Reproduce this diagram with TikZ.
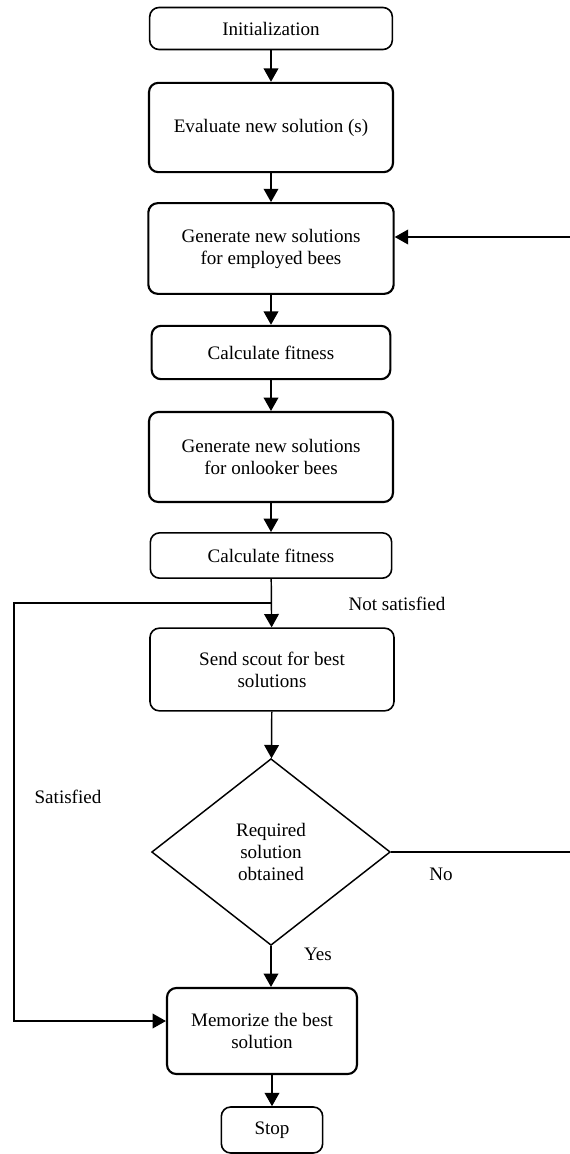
\documentclass[tikz,border=0pt]{standalone}
\usepackage{fontspec}
\setmainfont{Liberation Serif}
\usetikzlibrary{shapes.geometric,arrows.meta}
\begin{document}
\begin{tikzpicture}[x=0.75pt,y=-0.75pt,
		font=\fontsize{14.3pt}{16.5pt}\selectfont,
		>={Triangle[length=10pt,width=11pt]},
		box/.style={draw,line width=1.2pt,rounded corners=7pt,align=center,inner sep=0pt},
		bbox/.style={box,line width=1.6pt},
		link/.style={line width=1.1pt}]
		\useasboundingbox (0,0) rectangle (570,1154);
		\node[box,minimum width=182pt,minimum height=31.5pt] (init) at (271,28.5) {Initialization};
		\node[bbox,minimum width=183pt,minimum height=67pt] (eval) at (271,127.5) {Evaluate new solution (s)};
		\node[bbox,minimum width=184pt,minimum height=68pt] (empl) at (271,248.5) {Generate new solutions\\for employed bees};
		\node[bbox,minimum width=179pt,minimum height=40pt] (fit1) at (271,352.5) {Calculate fitness};
		\node[bbox,minimum width=183pt,minimum height=67.5pt] (onl) at (271,457) {Generate new solutions\\for onlooker bees};
		\node[box,minimum width=181pt,minimum height=34pt] (fit2) at (271,555.5) {Calculate fitness};
		\node[box,minimum width=183pt,minimum height=62pt] (scout) at (272,669.5) {Send scout for best\\solutions};
		\node[diamond,draw,line width=1.1pt,minimum width=179pt,minimum height=140pt,inner sep=0pt,align=center] (dec) at (271,852) {Required\\solution\\obtained};
		\node[bbox,minimum width=142.5pt,minimum height=64.5pt] (mem) at (262,1031) {Memorize the best\\solution};
		\node[box,minimum width=76pt,minimum height=34.5pt] (stop) at (272,1130) {Stop};
		\node (nsat) at (397,604) {Not satisfied};
		\node (sat) at (68,797) {Satisfied};
		\node (no) at (441,874) {No};
		\node (yes) at (318,954) {Yes};
		\coordinate (br) at (271,603);
		\coordinate (lft) at (14,603);
		\coordinate (bot) at (14,1021);
		\coordinate (noend) at (570,852);
		\coordinate (back) at (570,237);
		\draw[->,link] (init) to (eval);
		\draw[->,link] (eval) to (empl);
		\draw[->,link] (empl) to (fit1);
		\draw[->,link] (fit1) to (onl);
		\draw[->,link] (onl) to (fit2);
		\draw[->,link] (fit2) to (scout);
		\draw[->,link] (scout) to (dec);
		\draw[->,link] (dec) to (dec.south |- mem.north);
		\draw[->,link] (stop.north |- mem.south) to (stop);
		\draw[->,link] (br) -- (lft) -- (bot) -- (bot -| mem.west);
		\draw[link] (dec.east) -- (noend);
		\draw[->,link] (back) -- (back -| empl.east);
	\end{tikzpicture}
\end{document}
